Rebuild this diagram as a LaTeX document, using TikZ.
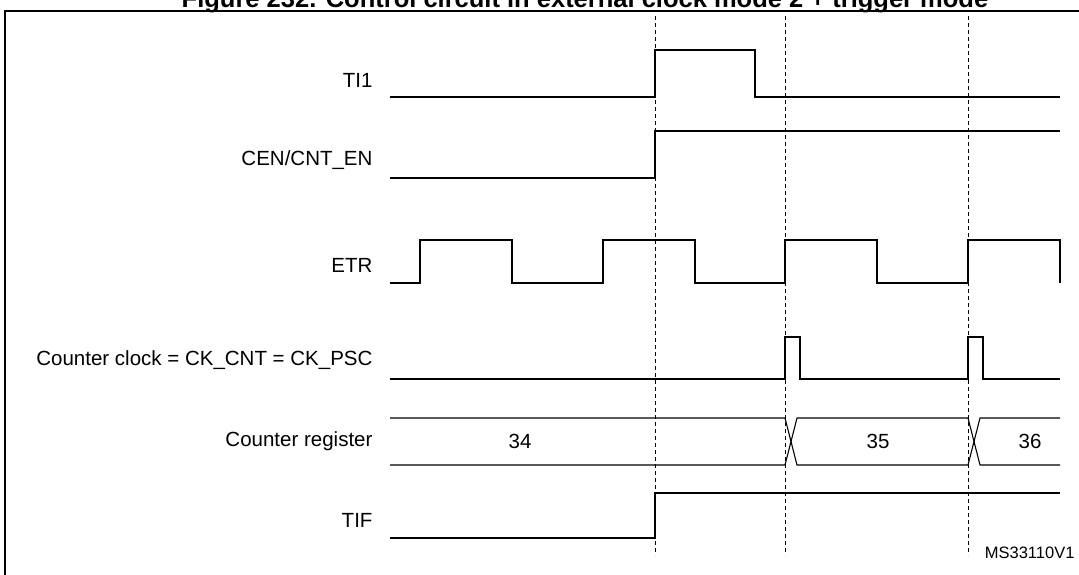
\documentclass[tikz,border=0pt]{standalone}
\usepackage{fontspec}
\setmainfont{Liberation Sans}
\begin{document}
\begin{tikzpicture}[x=1pt,y=-1pt,
  sig/.style={line width=1.1pt},
  guide/.style={dash pattern=on 4pt off 3pt,line width=0.7pt},
  lbl/.style={anchor=east,font=\fontsize{20.5}{23}\selectfont},
  val/.style={font=\fontsize{20.5}{23}\selectfont}]
\useasboundingbox (0,0) rectangle (1079,574);
\clip (0,0) rectangle (1079,574);
% title and frame
\node[anchor=base,font=\bfseries\fontsize{25.5}{28}\selectfont] (title) at (585,7) {Figure 232. Control circuit in external clock mode 2 + trigger mode};
\draw[line width=1.5pt] (5,590) -- (5,11) -- (1090,11);
% guides
\foreach \x in {655,785,968}
  \draw[guide] (\x,16) -- (\x,555);
% labels
\node[lbl] (ti) at (376,80) {TI1};
\node[lbl] (cen) at (376,160) {CEN/CNT\_EN};
\node[lbl] (etr) at (376,265) {ETR};
\node[lbl] (ck) at (376,360) {Counter clock = CK\_CNT = CK\_PSC};
\node[lbl] (cnt) at (376,441) {Counter register};
\node[lbl] (tif) at (376,520) {TIF};
% waveforms
\draw[sig] (390,97) -| (655,50) -| (755,97) -- (1060,97);
\draw[sig] (390,178) -| (655,131) -- (1060,131);
\draw[sig] (390,283) -| (420,240) -| (512,283) -| (603,240) -| (695,283)
  -| (785,240) -| (877,283) -| (968,240) -| (1060,283);
\draw[sig] (390,379) -| (785,337) -| (800,379) -| (968,337) -| (983,379) -- (1060,379);
\draw[sig] (390,418) -- (785,418) -- (797,465) -- (968,465) -- (980,418) -- (1060,418);
\draw[sig] (390,465) -- (785,465) -- (797,418) -- (968,418) -- (980,465) -- (1060,465);
\draw[sig] (390,538) -| (655,493) -- (1060,493);
% values
\node[val] (v34) at (520,441) {34};
\node[val] (v35) at (878,441) {35};
\node[val] (v36) at (1030,441) {36};
\node[anchor=east,font=\fontsize{16.5}{18}\selectfont] (ref) at (1078,553) {MS33110V1};
\end{tikzpicture}
\end{document}
